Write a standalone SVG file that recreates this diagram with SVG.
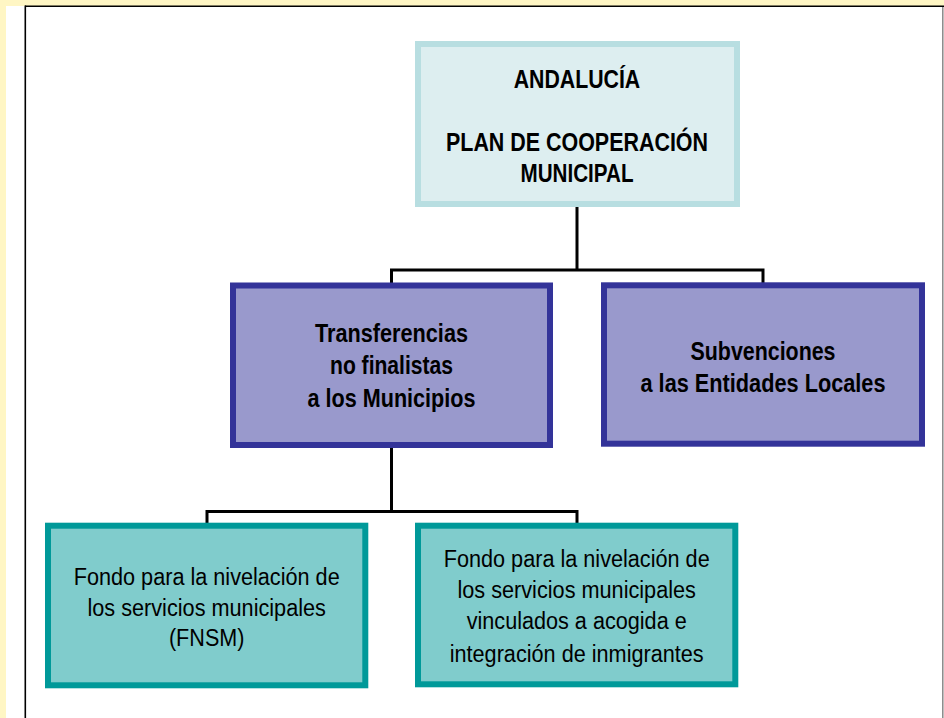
<svg xmlns="http://www.w3.org/2000/svg" width="944" height="718" viewBox="0 0 944 718">
<style>
.top{fill:#DDEEF0;stroke:#B8DEE1;stroke-width:6}
.mid{fill:#9999CC;stroke:#333399;stroke-width:6}
.low{fill:#80CCCC;stroke:#009999;stroke-width:6}
.b{font-family:"Liberation Sans Narrow","Arial Narrow","Liberation Sans",Arial,sans-serif;font-weight:bold;font-size:25.5px;fill:#000;text-anchor:middle}
.r{font-family:"Liberation Sans",Arial,sans-serif;font-size:23px;fill:#000;text-anchor:middle}
.c{fill:none;stroke:#000;stroke-width:3}
</style>
<rect x="0" y="0" width="944" height="718" fill="#FFFFFF"/>
<rect x="0" y="0" width="944" height="6" fill="#FFF6C4"/>
<rect x="0" y="0" width="6" height="718" fill="#FFF6C4"/>
<line x1="25" y1="6.3" x2="944" y2="6.3" stroke="#000" stroke-width="1.6"/>
<line x1="25.3" y1="5.5" x2="25.3" y2="718" stroke="#000" stroke-width="1.6"/>
<line x1="942.8" y1="7" x2="942.8" y2="718" stroke="#888" stroke-width="1.5"/>
<g id="connectors">
<path class="c" d="M577 207 V270 M391.5 270 H763 M391.5 268.5 V284 M763 268.5 V284"/>
<path class="c" d="M391.5 448 V511.5 M207 511.5 H577 M207 510 V524 M577 510 V524"/>
</g>
<g id="n1">
<rect class="top" x="418" y="44" width="319" height="160"/>
<text class="b" x="577" y="87.5" textLength="126.5" lengthAdjust="spacingAndGlyphs">ANDALUCÍA</text>
<text class="b" x="577" y="151" textLength="262" lengthAdjust="spacingAndGlyphs">PLAN DE COOPERACIÓN</text>
<text class="b" x="577" y="182" textLength="113" lengthAdjust="spacingAndGlyphs">MUNICIPAL</text>
</g>
<g id="n2">
<rect class="mid" x="233" y="285.5" width="317" height="159.5"/>
<text class="b" x="391.5" y="342" textLength="153" lengthAdjust="spacingAndGlyphs">Transferencias</text>
<text class="b" x="391.5" y="374" textLength="123" lengthAdjust="spacingAndGlyphs">no finalistas</text>
<text class="b" x="391.5" y="407" textLength="168" lengthAdjust="spacingAndGlyphs">a los Municipios</text>
</g>
<g id="n3">
<rect class="mid" x="604" y="285.3" width="318" height="158.4"/>
<text class="b" x="763" y="360" textLength="145" lengthAdjust="spacingAndGlyphs">Subvenciones</text>
<text class="b" x="763" y="392" textLength="245" lengthAdjust="spacingAndGlyphs">a las Entidades Locales</text>
</g>
<g id="n4">
<rect class="low" x="48" y="525.7" width="317.3" height="159.6"/>
<text class="r" x="206.7" y="585" textLength="266" lengthAdjust="spacingAndGlyphs">Fondo para la nivelación de</text>
<text class="r" x="206.7" y="615.5" textLength="238.5" lengthAdjust="spacingAndGlyphs">los servicios municipales</text>
<text class="r" x="206.7" y="646" textLength="75.5" lengthAdjust="spacingAndGlyphs">(FNSM)</text>
</g>
<g id="n5">
<rect class="low" x="418" y="525.7" width="317.3" height="158.6"/>
<text class="r" x="576.7" y="566.5" textLength="266" lengthAdjust="spacingAndGlyphs">Fondo para la nivelación de</text>
<text class="r" x="576.7" y="597.5" textLength="238.5" lengthAdjust="spacingAndGlyphs">los servicios municipales</text>
<text class="r" x="576.7" y="629" textLength="220" lengthAdjust="spacingAndGlyphs">vinculados a acogida e</text>
<text class="r" x="576.7" y="661.5" textLength="254" lengthAdjust="spacingAndGlyphs">integración de inmigrantes</text>
</g>
</svg>
